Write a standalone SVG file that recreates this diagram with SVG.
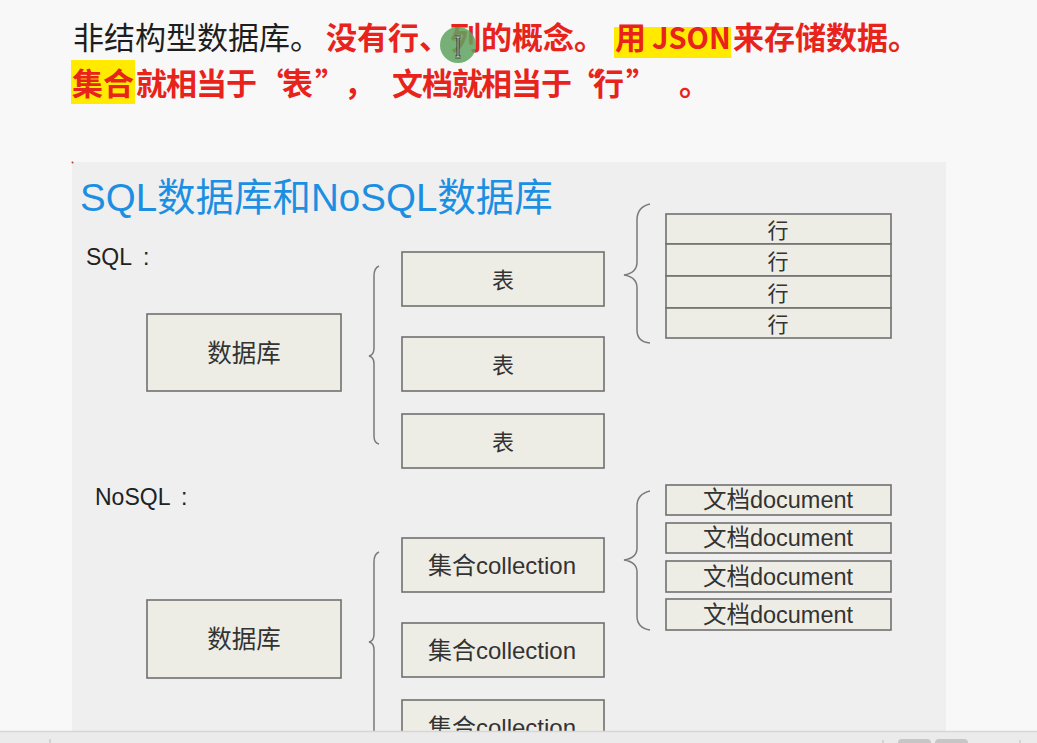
<svg xmlns="http://www.w3.org/2000/svg" width="1037" height="743" viewBox="0 0 1037 743">
<style>
.hdr{font-family:"Noto Sans CJK SC","Liberation Sans",sans-serif;font-size:31px}
.red{fill:#e8231b;font-weight:bold}
.blk{fill:#1e1e1e}
.box{fill:#eeede5;stroke:#707070;stroke-width:1.6}
.lbl{font-family:"Liberation Sans","Noto Sans CJK SC",sans-serif;fill:#333;text-anchor:middle}
.brace{fill:none;stroke:#7a7a7a;stroke-width:1.5}
.sec{font-family:"Liberation Sans","Noto Sans CJK SC",sans-serif;font-size:23px;fill:#222}
</style>
<rect x="0" y="0" width="1037" height="743" fill="#f8f8f8"/>
<!-- header text -->
<rect x="614" y="27" width="117" height="31" fill="#ffea00"/>
<rect x="71" y="60" width="64" height="44" fill="#ffea00"/>
<text class="hdr" y="49"><tspan class="blk" x="73">非结构型数据库。</tspan><tspan class="red" x="326">没有行、列的概念。</tspan><tspan class="red" x="615">用</tspan><tspan class="red" x="652" font-size="29">JSON</tspan><tspan class="red" x="733">来存储数据。</tspan></text>
<text class="hdr red" y="95"><tspan x="72">集合</tspan><tspan x="136 166 196 226 259 282 315 344 392 422 452 481 511 541 570 593 626 679">就相当于“表”，文档就相当于“行”。</tspan></text>
<!-- cursor -->
<circle cx="458" cy="45" r="18" fill="#5fa35f" opacity="0.85"/>
<path d="M455 37h6M458 37v20M455 57h6" stroke="#000" stroke-width="2.6" fill="none"/>
<path d="M455 37h6M458 37v20M455 57h6" stroke="#fff" stroke-width="1" fill="none"/>
<!-- slide -->
<rect x="72" y="162" width="874" height="569" fill="#efefef"/>
<circle cx="72.5" cy="162.5" r="1" fill="#c0392b"/>
<text x="80" y="211" font-family="Liberation Sans,'Noto Sans CJK SC',sans-serif" font-size="38.5" fill="#1c8fe3">SQL数据库和NoSQL数据库</text>
<text class="sec" x="86" y="265">SQL <tspan x="143">:</tspan></text>
<text class="sec" x="95" y="505">NoSQL <tspan x="181">:</tspan></text>
<!-- connectors (braces) -->
<g id="connectors">
<path class="brace" d="M379 266 Q374 268 374 276 V348 Q374 355 369 356 Q374 357 374 364 V436 Q374 443 379 444"/>
<path class="brace" d="M650 204 Q637 207 637 220 V262 Q637 273 624 275 Q637 277 637 288 V330 Q637 342 650 343"/>
<path class="brace" d="M650 491 Q637 494 637 506 V548 Q637 558 624 560 Q637 562 637 572 V616 Q637 628 650 630"/>
<path class="brace" d="M379 552 Q374 554 374 562 V634 Q374 641 369 642 Q374 643 374 650 V740"/>
</g>
<!-- SQL -->
<g id="sql-db"><rect class="box" x="147" y="314" width="194" height="77"/><text class="lbl" x="244" y="362" font-size="24.5">数据库</text></g>
<g id="sql-t1"><rect class="box" x="402" y="252" width="202" height="54"/><text class="lbl" x="503" y="288" font-size="22">表</text></g>
<g id="sql-t2"><rect class="box" x="402" y="337" width="202" height="54"/><text class="lbl" x="503" y="373" font-size="22">表</text></g>
<g id="sql-t3"><rect class="box" x="402" y="414" width="202" height="54"/><text class="lbl" x="503" y="450" font-size="22">表</text></g>
<g id="row1"><rect class="box" x="666" y="214" width="225" height="30"/><text class="lbl" x="778" y="238" font-size="21">行</text></g>
<g id="row2"><rect class="box" x="666" y="244" width="225" height="32"/><text class="lbl" x="778" y="269" font-size="21">行</text></g>
<g id="row3"><rect class="box" x="666" y="276" width="225" height="32"/><text class="lbl" x="778" y="301" font-size="21">行</text></g>
<g id="row4"><rect class="box" x="666" y="308" width="225" height="30"/><text class="lbl" x="778" y="332" font-size="21">行</text></g>
<!-- NoSQL -->
<g id="nosql-db"><rect class="box" x="147" y="600" width="194" height="78"/><text class="lbl" x="244" y="648" font-size="24.5">数据库</text></g>
<g id="col1"><rect class="box" x="402" y="538" width="202" height="54"/><text class="lbl" x="502" y="574" font-size="24">集合collection</text></g>
<g id="col2"><rect class="box" x="402" y="623" width="202" height="54"/><text class="lbl" x="502" y="659" font-size="24">集合collection</text></g>
<g id="col3"><rect class="box" x="402" y="700" width="202" height="54"/><text class="lbl" x="502" y="736" font-size="24">集合collection</text></g>
<g id="doc1"><rect class="box" x="666" y="485" width="225" height="30"/><text class="lbl" x="778" y="508" font-size="23.5">文档document</text></g>
<g id="doc2"><rect class="box" x="666" y="523" width="225" height="30"/><text class="lbl" x="778" y="546" font-size="23.5">文档document</text></g>
<g id="doc3"><rect class="box" x="666" y="561" width="225" height="31"/><text class="lbl" x="778" y="585" font-size="23.5">文档document</text></g>
<g id="doc4"><rect class="box" x="666" y="599" width="225" height="31"/><text class="lbl" x="778" y="623" font-size="23.5">文档document</text></g>
<!-- bottom bar -->
<rect x="0" y="731" width="1037" height="12" fill="#ebebeb"/>
<line x1="0" y1="731.5" x2="1037" y2="731.5" stroke="#d6d6d6" stroke-width="1.5"/>
<line x1="50" y1="739" x2="50" y2="743" stroke="#bbb"/>
<line x1="883" y1="740" x2="883" y2="743" stroke="#bbb"/>
<line x1="1020" y1="740" x2="1020" y2="743" stroke="#bbb"/>
<rect x="898" y="739" width="33" height="10" rx="4" fill="#c6c6c6"/>
<rect x="935" y="739" width="33" height="10" rx="4" fill="#c6c6c6"/>
</svg>
